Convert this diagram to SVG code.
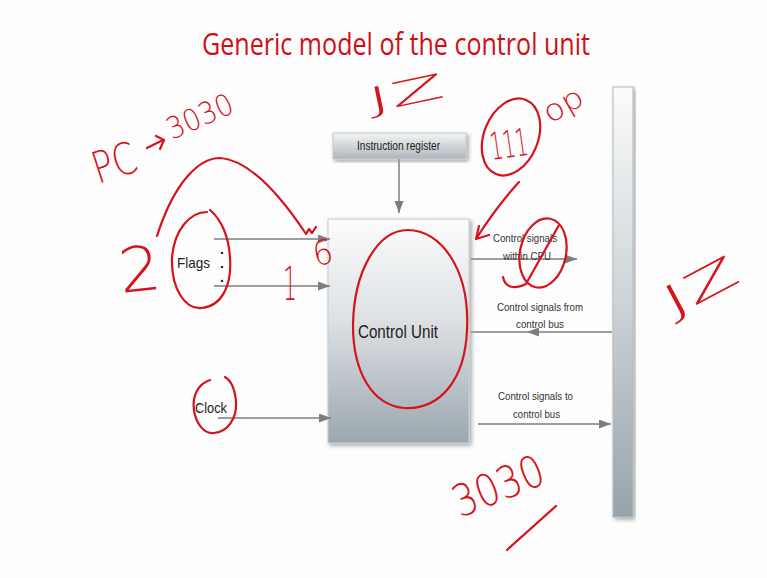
<svg xmlns="http://www.w3.org/2000/svg" width="767" height="578" viewBox="0 0 767 578">
  <defs>
    <linearGradient id="boxFill" x1="0" y1="0" x2="0" y2="1">
      <stop offset="0" stop-color="#fbfcfc"/>
      <stop offset="0.45" stop-color="#dde1e4"/>
      <stop offset="1" stop-color="#9ba6ae"/>
    </linearGradient>
    <linearGradient id="irFill" x1="0" y1="0" x2="0" y2="1">
      <stop offset="0" stop-color="#f4f5f6"/>
      <stop offset="1" stop-color="#aeb6bc"/>
    </linearGradient>
    <linearGradient id="busFill" x1="0" y1="0" x2="0" y2="1">
      <stop offset="0" stop-color="#fafbfb"/>
      <stop offset="0.5" stop-color="#cdd3d7"/>
      <stop offset="1" stop-color="#98a3ab"/>
    </linearGradient>
    <filter id="shadow" x="-10%" y="-10%" width="125%" height="125%">
      <feDropShadow dx="2" dy="2" stdDeviation="2" flood-color="#000" flood-opacity="0.35"/>
    </filter>
    <marker id="head" viewBox="0 0 12 9" refX="12" refY="4.5" markerWidth="12" markerHeight="9" markerUnits="userSpaceOnUse" orient="auto">
      <path d="M0,0 L12,4.5 L0,9 z" fill="#7d7d7d"/>
    </marker>
    <marker id="midhead" viewBox="0 0 12 9" refX="6" refY="4.5" markerWidth="12" markerHeight="9" markerUnits="userSpaceOnUse" orient="auto">
      <path d="M0,0 L12,4.5 L0,9 z" fill="#7d7d7d"/>
    </marker>
    <style>
      .lbl { font-family: "Liberation Sans", Arial, sans-serif; fill: #222; }
      .sig { font-size: 11.5px; fill: #333; }
      .wire { stroke: #9d9d9d; stroke-width: 2; fill: none; }
      .ink { stroke: #d4131c; stroke-width: 2.2; fill: none; stroke-linecap: round; stroke-linejoin: round; }
      .hand { font-family: "DejaVu Sans", sans-serif; font-weight: 200; fill: #d4131c; }
    </style>
  </defs>

  <rect width="767" height="578" fill="#fdfdfd"/>

  <!-- heading -->
  <text id="title" x="202" y="55" font-family="'Open Sans', 'Liberation Sans', sans-serif" font-size="31" fill="#cc1016" textLength="388" lengthAdjust="spacingAndGlyphs">Generic model of the control unit</text>

  <!-- instruction register -->
  <g id="instruction-register">
    <rect x="333" y="133" width="133" height="26" fill="url(#irFill)" stroke="#c4c9cd" stroke-width="1" filter="url(#shadow)"/>
    <text class="lbl" x="357" y="150" font-size="12" textLength="83" lengthAdjust="spacingAndGlyphs">Instruction register</text>
  </g>

  <!-- control unit block -->
  <g id="control-unit">
    <rect x="328" y="219" width="141" height="224" fill="url(#boxFill)" stroke="#c6cbcf" stroke-width="1" filter="url(#shadow)"/>
    <text class="lbl" x="358" y="338" font-size="18" textLength="80" lengthAdjust="spacingAndGlyphs">Control Unit</text>
  </g>

  <!-- system bus bar -->
  <g id="bus">
    <rect x="613" y="87" width="20" height="430" fill="url(#busFill)" stroke="#b3b9be" stroke-width="1" filter="url(#shadow)"/>
  </g>

  <!-- inputs -->
  <g id="flags">
    <text class="lbl" x="177" y="268" font-size="15" textLength="33" lengthAdjust="spacingAndGlyphs">Flags</text>
    <circle cx="222" cy="253" r="1.3" fill="#333"/>
    <circle cx="222" cy="267" r="1.3" fill="#333"/>
    <circle cx="222" cy="281" r="1.3" fill="#333"/>
  </g>
  <g id="clock">
    <text class="lbl" x="195" y="413" font-size="15" textLength="32" lengthAdjust="spacingAndGlyphs">Clock</text>
  </g>

  <!-- signal paths -->
  <g id="connectors">
    <line class="wire" x1="399" y1="159" x2="399" y2="213" marker-end="url(#head)"/>
    <line class="wire" x1="214" y1="239" x2="330" y2="239" marker-end="url(#head)"/>
    <line class="wire" x1="214" y1="286" x2="330" y2="286" marker-end="url(#head)"/>
    <line class="wire" x1="218" y1="418" x2="331" y2="418" marker-end="url(#head)"/>
    <line class="wire" x1="471" y1="259" x2="577" y2="259" marker-end="url(#head)"/>
    <path class="wire" d="M612,332 L533,332 L471,332" marker-mid="url(#midhead)"/>
    <line class="wire" x1="478" y1="424" x2="611" y2="424" marker-end="url(#head)"/>
  </g>

  <!-- signal labels -->
  <g id="signal-labels" class="lbl sig">
    <text x="493" y="242" textLength="64" lengthAdjust="spacingAndGlyphs">Control signals</text>
    <text x="503" y="260" textLength="48" lengthAdjust="spacingAndGlyphs">within CPU</text>
    <text x="497" y="311" textLength="86" lengthAdjust="spacingAndGlyphs">Control signals from</text>
    <text x="516" y="328" textLength="48" lengthAdjust="spacingAndGlyphs">control bus</text>
    <text x="498" y="400" textLength="75" lengthAdjust="spacingAndGlyphs">Control signals to</text>
    <text x="513" y="418" textLength="47" lengthAdjust="spacingAndGlyphs">control bus</text>
  </g>

  <!-- pen annotations -->
  <g id="annotations">
    <!-- PC -> 3030 -->
    <text class="hand" x="98" y="184" font-size="44" transform="rotate(-18 98 184)" textLength="44" lengthAdjust="spacingAndGlyphs">PC</text>
    <path class="ink" d="M147,148 L163,140 M156,136 L164,140 L160,149"/>
    <text class="hand" x="172" y="140" font-size="30" transform="rotate(-24 172 140)" textLength="70" lengthAdjust="spacingAndGlyphs">3030</text>

    <!-- JZ top -->
    <text class="hand" x="370" y="113" font-size="34" transform="rotate(-12 370 113)" textLength="78" lengthAdjust="spacingAndGlyphs">JZ</text>

    <!-- opcode circle -->
    <ellipse class="ink" cx="511" cy="137" rx="27" ry="40" transform="rotate(22 511 137)"/>
    <text class="hand" x="492" y="160" font-size="38" transform="rotate(-8 492 160)" textLength="38" lengthAdjust="spacingAndGlyphs">111</text>
    <text class="hand" x="550" y="124" font-size="30" transform="rotate(-30 550 124)" textLength="42" lengthAdjust="spacingAndGlyphs">op</text>
    <path class="ink" d="M519,182 Q497,206 476,239 M476,239 L479,226 M476,239 L489,235"/>

    <!-- arc over flags -->
    <path class="ink" d="M157,236 C175,180 200,158 220,158 C250,160 280,195 306,234 L309,229 L312,233 L316,227"/>
    <text class="hand" x="121" y="293" font-size="62" transform="rotate(-6 121 293)" textLength="42" lengthAdjust="spacingAndGlyphs">2</text>
    <path class="ink" d="M207,212 C190,212 174,230 172,258 C171,290 186,310 202,308 C222,306 232,285 230,258 C229,238 222,220 210,210"/>
    <text class="hand" x="283" y="300" font-size="46" textLength="14" lengthAdjust="spacingAndGlyphs">1</text>
    <text class="hand" x="315" y="266" font-size="34" transform="rotate(-10 315 266)" textLength="20" lengthAdjust="spacingAndGlyphs">6</text>

    <!-- control unit loop -->
    <path class="ink" d="M408,230 C440,230 470,268 467,330 C465,380 440,410 404,408 C372,405 353,372 353,325 C354,270 378,230 408,230 Z"/>

    <!-- crossed-out circle -->
    <ellipse class="ink" cx="543" cy="253" rx="23" ry="35" transform="rotate(12 543 253)"/>
    <path class="ink" d="M503,277 C505,287 513,290 526,284 L559,225"/>

    <!-- clock loop -->
    <path class="ink" d="M210,380 C198,384 192,396 194,410 C196,424 204,434 214,433 C228,432 237,418 236,402 C235,390 232,381 225,377"/>

    <!-- JZ right -->
    <text class="hand" x="672" y="318" font-size="42" transform="rotate(-28 672 318)" textLength="80" lengthAdjust="spacingAndGlyphs">JZ</text>

    <!-- 3030 bottom -->
    <text class="hand" x="460" y="518" font-size="44" transform="rotate(-22 460 518)" textLength="95" lengthAdjust="spacingAndGlyphs">3030</text>
    <path class="ink" d="M507,550 L556,506"/>
  </g>
</svg>
